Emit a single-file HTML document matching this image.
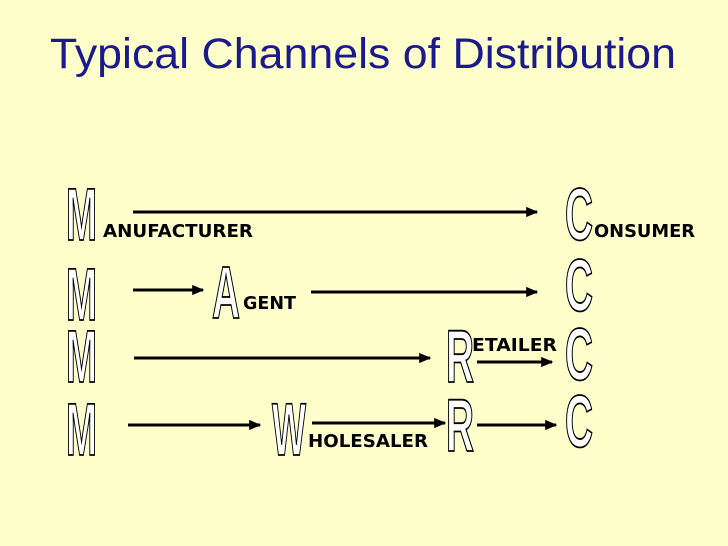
<!DOCTYPE html>
<html><head><meta charset="utf-8"><style>
html,body{margin:0;padding:0;background:#ffffcc;}
svg{display:block;}
.big{font-family:"Liberation Sans",sans-serif;font-weight:bold;font-size:74px;fill:#fff;stroke:#000;stroke-width:1.8;}
.lab{font-family:"DejaVu Sans","Liberation Sans",sans-serif;font-weight:bold;font-size:18px;fill:#000;}
</style></head><body>
<svg width="728" height="546" viewBox="0 0 728 546" xmlns="http://www.w3.org/2000/svg">
<defs><marker id="ah" markerWidth="4" markerHeight="4" refX="3.6" refY="2" orient="auto" markerUnits="strokeWidth"><path d="M0,0.3 L4,2 L0,3.7 z" fill="#000"/></marker></defs>
<rect width="728" height="546" fill="#ffffcc"/>
<text x="50" y="68" font-family="Liberation Sans, sans-serif" font-size="43" fill="#1a1a8c" textLength="626" lengthAdjust="spacingAndGlyphs">Typical Channels of Distribution</text>
<g stroke="#000" stroke-width="3" marker-end="url(#ah)">
<line x1="133" y1="212" x2="537" y2="212"/>
<line x1="133" y1="290" x2="203" y2="290"/>
<line x1="311" y1="292" x2="537" y2="292"/>
<line x1="134" y1="358" x2="430" y2="358"/>
<line x1="477" y1="362" x2="552" y2="362"/>
<line x1="128" y1="425" x2="260" y2="425"/>
<line x1="312" y1="423" x2="445" y2="423"/>
<line x1="477" y1="425" x2="556" y2="425"/>
</g>
<text class="big" x="66" y="240" textLength="31" lengthAdjust="spacingAndGlyphs">M</text>
<text class="big" x="66" y="320" textLength="31" lengthAdjust="spacingAndGlyphs">M</text>
<text class="big" x="66" y="382" textLength="31" lengthAdjust="spacingAndGlyphs">M</text>
<text class="big" x="66" y="455" textLength="31" lengthAdjust="spacingAndGlyphs">M</text>
<text class="big" x="212" y="318" textLength="28" lengthAdjust="spacingAndGlyphs">A</text>
<text class="big" x="446" y="382" textLength="28" lengthAdjust="spacingAndGlyphs">R</text>
<text class="big" x="446" y="451" textLength="28" lengthAdjust="spacingAndGlyphs">R</text>
<text class="big" x="272" y="455" textLength="34" lengthAdjust="spacingAndGlyphs">W</text>
<text class="big" x="565" y="240" textLength="28" lengthAdjust="spacingAndGlyphs">C</text>
<text class="big" x="565" y="311" textLength="28" lengthAdjust="spacingAndGlyphs">C</text>
<text class="big" x="565" y="380" textLength="28" lengthAdjust="spacingAndGlyphs">C</text>
<text class="big" x="565" y="447" textLength="28" lengthAdjust="spacingAndGlyphs">C</text>
<text class="lab" x="103" y="237" textLength="150" lengthAdjust="spacingAndGlyphs">ANUFACTURER</text>
<text class="lab" x="243" y="309" textLength="53" lengthAdjust="spacingAndGlyphs">GENT</text>
<text class="lab" x="472" y="351" textLength="85" lengthAdjust="spacingAndGlyphs">ETAILER</text>
<text class="lab" x="308" y="447" textLength="120" lengthAdjust="spacingAndGlyphs">HOLESALER</text>
<text class="lab" x="594" y="237" textLength="101" lengthAdjust="spacingAndGlyphs">ONSUMER</text>
</svg>
</body></html>
